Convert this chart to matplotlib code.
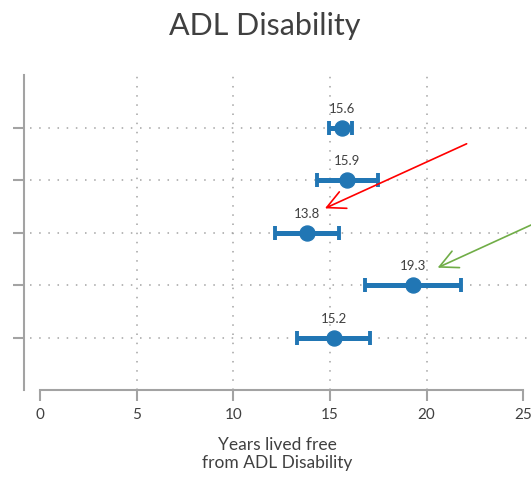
import matplotlib; matplotlib.use("Agg")
import matplotlib.pyplot as plt

plt.rcParams['font.family'] = ['Lato', 'DejaVu Sans']

# rows top -> bottom
rows   = [5, 4, 3, 2, 1]
est    = [15.6, 15.9, 13.8, 19.3, 15.2]
lo     = [14.95, 14.35, 12.15, 16.8, 13.3]
hi     = [16.15, 17.5, 15.45, 21.8, 17.05]
xticks = [0, 5, 10, 15, 20, 25]
vgrid  = [5, 10, 15, 20]

BLUE = "#2176b4"; GRAY = "#a3a3a3"; TXT = "#404040"

fig = plt.figure(figsize=(5.31, 4.78), dpi=100)
ax = fig.add_axes([24/531, 88/478, 507/531, 315/478])

xerr = [[e - l for e, l in zip(est, lo)], [h - e for e, h in zip(est, hi)]]
ax.errorbar(est, rows, xerr=xerr, fmt="o", color=BLUE, ms=10.8, elinewidth=3.6,
            capsize=4.7, capthick=2.8, zorder=3)
for x, y in zip(est, rows):
    ax.annotate(f"{x:.1f}", (x, y), xytext=(0, 13.5), textcoords="offset points",
                ha="center", va="center", fontsize=9.5, color=TXT)

for v in vgrid:
    ax.axvline(v, color=GRAY, lw=1.1, ls=(0, (1, 5)), zorder=1)
for r in rows:
    ax.axhline(r, xmin=6/507, color=GRAY, lw=1.1, ls=(0, (1, 5)), zorder=1)

ax.set_xlim(-0.828, 25.40); ax.set_ylim(0, 6)
ax.set_xticks(xticks); ax.set_yticks(rows); ax.set_yticklabels([])
for s in ["top", "right"]: ax.spines[s].set_visible(False)
ax.spines["bottom"].set_bounds(0, 25)
for s in ["left", "bottom"]:
    ax.spines[s].set_color(GRAY); ax.spines[s].set_linewidth(1.5)
ax.tick_params(axis="both", direction="out", length=8, width=1.5, color=GRAY,
               labelcolor=TXT)
ax.tick_params(axis="x", labelsize=11, pad=5)
ax.set_xlabel("Years lived free\nfrom ADL Disability", fontsize=12.5, color=TXT,
              labelpad=11, linespacing=1.1)

# callout arrows
ax.annotate("", xy=(14.74, 3.46), xytext=(22.07, 4.69), annotation_clip=False,
            arrowprops=dict(arrowstyle="->,head_length=1.3,head_width=0.65",
                            color="#ff0000", lw=1.2, mutation_scale=10,
                            shrinkA=0, shrinkB=0))
ax.annotate("", xy=(20.57, 2.33), xytext=(26.1, 3.26), annotation_clip=False,
            arrowprops=dict(arrowstyle="->,head_length=1.3,head_width=0.65",
                            color="#70ad47", lw=1.2, mutation_scale=10,
                            shrinkA=0, shrinkB=0))

fig.text(265/531, 1 - 35/478, "ADL Disability", ha="center", va="baseline",
         fontsize=22, color=TXT)

fig.savefig("out.png", dpi=100)
